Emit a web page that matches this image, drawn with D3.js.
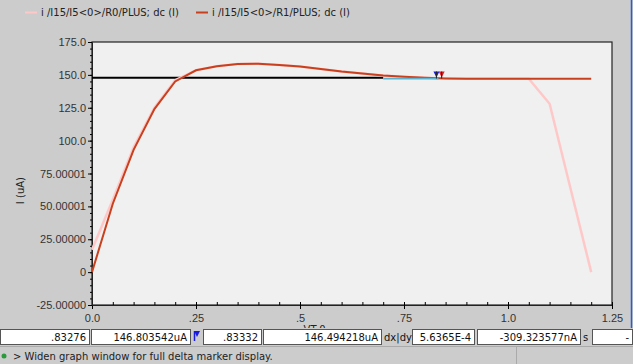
<!DOCTYPE html>
<html>
<head>
<meta charset="utf-8">
<script src="https://cdn.jsdelivr.net/npm/d3@7"></script>
<style>
  body { margin: 0; background: #cccccc; }
  svg { display: block; font-family: "DejaVu Sans", sans-serif; }
</style>
</head>
<body>
<div id="chart"></div>
<script>
// sweep values (VT-0) and the two current series in uA
const sweep = [0, 0.05, 0.1, 0.15, 0.2, 0.25, 0.3, 0.35, 0.4, 0.45, 0.5, 0.55, 0.6,
  0.65, 0.7, 0.75, 0.8, 0.85, 0.9, 0.95, 1.0, 1.05, 1.1, 1.15, 1.2];
const r0 = [17, 55, 95, 125, 146, 153.5, 156.5, 158.3, 158.5, 157.5, 156.3, 154.5, 152.5,
  151, 149.5, 148.5, 147.8, 147.3, 147, 147, 147, 147, 128, 64, 0];
const r1 = [0, 52, 93, 124, 145, 153.5, 156.5, 158.3, 158.5, 157.5, 156.3, 154.5, 152.5,
  151, 149.5, 148.5, 147.8, 147.3, 147, 147, 147, 147, 147, 147, 147];
const refX = [0, 0.7];
const refY = [147.8, 147.8];
const deltaX = [0.7, 0.833];
const deltaY = [147.2, 147.2];
const markerA = 0.83276;
const markerB = 0.83332;
const markerLevel = 148;

const legendNames = ["i /I15/I5<0>/R0/PLUS; dc (I)", "i /I15/I5<0>/R1/PLUS; dc (I)"];
const yTicks = [175, 150, 125, 100, 75, 50, 25, 0, -25];
const yTickLabels = ["175.0", "150.0", "125.0", "100.0", "75.00001", "50.00001", "25.00000", "0", "-25.00000"];
const xTicks = [0, 0.25, 0.5, 0.75, 1.0, 1.25];
const xTickLabels = ["0.0", ".25", ".5", ".75", "1.0", "1.25"];
const fieldTexts = [".83276", "146.803542uA", ".83332", "146.494218uA", "5.6365E-4", "-309.323577nA", "-"];
const statusText = "> Widen graph window for full delta marker display.";

const width = 633, height = 364;
const margin = { top: 42, right: 21, bottom: 59, left: 92 };
const innerWidth = width - margin.left - margin.right;
const innerHeight = height - margin.top - margin.bottom;

const svg = d3.select("#chart").append("svg")
  .attr("width", width)
  .attr("height", height);

svg.append("rect").attr("width", width).attr("height", height).attr("fill", "#cccccc");
svg.append("line").attr("x1", 631.5).attr("x2", 631.5).attr("y1", 0).attr("y2", 345)
  .attr("stroke", "#2a5bd7").attr("stroke-width", 1.5);

// legend
const legendColors = ["#ffc8c8", "#c8401e"];
const legendX = [25, 196];
legendNames.forEach((name, i) => {
  svg.append("line")
    .attr("x1", legendX[i]).attr("x2", legendX[i] + 12)
    .attr("y1", 12.5).attr("y2", 12.5)
    .attr("stroke", legendColors[i]).attr("stroke-width", 2);
  svg.append("text")
    .attr("x", legendX[i] + 16).attr("y", 16)
    .attr("font-size", 10).attr("fill", "#222")
    .text(name);
});

const g = svg.append("g")
  .attr("transform", `translate(${margin.left},${margin.top})`);

const x = d3.scaleLinear().domain([0, 1.25]).range([0, innerWidth]);
const y = d3.scaleLinear().domain([-25, 175]).range([innerHeight, 0]);

g.append("rect").attr("width", innerWidth).attr("height", innerHeight)
  .attr("fill", "#f0f0f0").attr("stroke", "#222").attr("stroke-width", 1.2);

// minor ticks (no labels)
g.append("g")
  .attr("transform", `translate(0,${innerHeight})`)
  .call(d3.axisBottom(x).ticks(25).tickSize(-3).tickFormat(""))
  .call(s => s.select(".domain").remove())
  .call(s => s.selectAll("text").remove());
g.append("g")
  .call(d3.axisLeft(y).ticks(40).tickSize(2).tickFormat(""))
  .call(s => s.select(".domain").remove())
  .call(s => s.selectAll("text").remove());

// major axes
g.append("g")
  .attr("transform", `translate(0,${innerHeight})`)
  .call(d3.axisBottom(x).tickValues(xTicks).tickSize(4).tickFormat((d, i) => xTickLabels[i]))
  .call(s => s.selectAll("text").attr("font-size", 11).attr("fill", "#333").attr("dy", "0.9em"));
g.append("g")
  .call(d3.axisLeft(y).tickValues(yTicks).tickSize(4).tickPadding(2).tickFormat((d, i) => yTickLabels[i]))
  .call(s => s.selectAll("text").attr("font-size", 11).attr("fill", "#333"));
g.selectAll(".domain").attr("stroke", "#222");

svg.append("text")
  .attr("transform", `translate(24,${margin.top + y(62)}) rotate(-90)`)
  .attr("text-anchor", "middle").attr("font-size", 10).attr("fill", "#222")
  .text("I (uA)");
svg.append("text")
  .attr("x", margin.left + x(0.535)).attr("y", 333)
  .attr("text-anchor", "middle").attr("font-size", 10).attr("fill", "#222")
  .text("VT-0");

const line = d3.line().x(d => x(d[0])).y(d => y(d[1]));

g.append("path")
  .datum(d3.zip(refX, refY))
  .attr("fill", "none").attr("stroke", "#000").attr("stroke-width", 1.8)
  .attr("d", line);
g.append("path")
  .datum(d3.zip(sweep, r0))
  .attr("fill", "none").attr("stroke", "#ffc8c8").attr("stroke-width", 2.5)
  .attr("d", line);
g.append("path")
  .datum(d3.zip(sweep, r1))
  .attr("fill", "none").attr("stroke", "#c8401e").attr("stroke-width", 2)
  .attr("d", line);
g.append("path")
  .datum(d3.zip(deltaX, deltaY))
  .attr("fill", "none").attr("stroke", "#5ab4d0").attr("stroke-width", 1.8)
  .attr("d", line);

// delta markers
const flag = (px, color) => {
  const py = y(markerLevel);
  g.append("path")
    .attr("d", `M${px - 3},${py - 6}L${px + 3},${py - 6}L${px},${py}Z`)
    .attr("fill", color);
  g.append("line").attr("x1", px).attr("x2", px).attr("y1", py - 6).attr("y2", py + 1)
    .attr("stroke", "#222").attr("stroke-width", 1);
};
flag(x(markerA) - 2, "#1a1ae0");
flag(x(markerB) + 3, "#e02020");

// marker readout row (covers the lower half of the x-axis title, as in the tool)
const rowY = 329, rowH = 15;
svg.append("rect").attr("x", 0).attr("y", rowY - 1).attr("width", width).attr("height", rowH + 3).attr("fill", "#cccccc");
const boxes = [[0, 90], [91, 191], [203, 262], [263, 382], [412, 475], [477, 581], [592, 633]];
boxes.forEach((b, i) => {
  svg.append("rect")
    .attr("x", b[0] + 0.5).attr("y", rowY + 0.5)
    .attr("width", b[1] - b[0] - 1).attr("height", rowH)
    .attr("fill", "#fff").attr("stroke", "#555");
  svg.append("text")
    .attr("x", b[1] - 4).attr("y", rowY + 11.5)
    .attr("text-anchor", "end").attr("font-size", 10).attr("fill", "#111")
    .text(fieldTexts[i]);
});
svg.append("path").attr("d", `M194,${rowY + 2}L200,${rowY + 2}L197,${rowY + 8}Z`).attr("fill", "#1a1ae0");
svg.append("line").attr("x1", 194.5).attr("x2", 194.5).attr("y1", rowY + 2).attr("y2", rowY + 12)
  .attr("stroke", "#1a1ae0").attr("stroke-width", 1.5);
svg.append("text").attr("x", 384).attr("y", rowY + 11.5).attr("font-size", 10).attr("fill", "#111").text("dx|dy");
svg.append("text").attr("x", 583).attr("y", rowY + 11.5).attr("font-size", 10).attr("fill", "#111").text("s");

// status bar
svg.append("line").attr("x1", 0).attr("x2", width).attr("y1", 346.5).attr("y2", 346.5).attr("stroke", "#aaa");
svg.append("line").attr("x1", 516.5).attr("x2", 516.5).attr("y1", 347).attr("y2", height).attr("stroke", "#aaa");
svg.append("circle").attr("cx", 4).attr("cy", 356).attr("r", 2.5).attr("fill", "#2a9a3a");
svg.append("text").attr("x", 13).attr("y", 360).attr("font-size", 10).attr("fill", "#222").text(statusText);
</script>
</body>
</html>
